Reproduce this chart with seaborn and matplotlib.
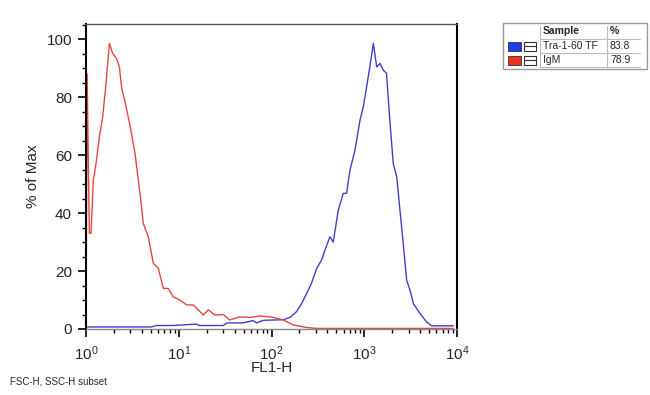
import matplotlib
matplotlib.use("Agg")
import matplotlib.pyplot as plt
import matplotlib.ticker as mticker
from matplotlib.patches import Rectangle
import numpy as np
import pandas as pd
import seaborn as sns

# log10(FL1-H) positions and % of Max
igm_log = [0.0, 0.012, 0.036, 0.054, 0.079, 0.108, 0.144, 0.18, 0.216, 0.252, 0.288,
           0.33, 0.36, 0.385, 0.42, 0.474, 0.528, 0.582, 0.618, 0.672, 0.726, 0.78,
           0.834, 0.887, 0.94, 1.013, 1.085, 1.157, 1.265, 1.319, 1.39, 1.48, 1.55,
           1.66, 1.77, 1.876, 2.02, 2.127, 2.235, 2.38, 2.487, 3.0, 3.96]
igm_pct = [0.0, 88, 33, 33, 51.4, 57, 66.3, 73.2, 84.7, 98.5, 95,
           93.3, 90.4, 83, 78.4, 70.3, 60.6, 46.8, 36.4, 31.8, 22.6, 20.9,
           14, 14, 11.1, 10, 8.3, 8.3, 4.8, 6.6, 4.8, 5, 3.1,
           4.2, 4, 4.5, 4, 3.1, 1.4, 0.5, 0.2, 0.2, 0.2]

tra_log = [0.0, 0.7, 0.76, 0.94, 1.19, 1.22, 1.48, 1.52, 1.69, 1.8, 1.84, 1.91,
           2.127, 2.2, 2.27, 2.325, 2.38, 2.43, 2.487, 2.54, 2.576, 2.63, 2.666,
           2.72, 2.774, 2.81, 2.846, 2.9, 2.954, 2.99, 3.026, 3.06, 3.098, 3.134,
           3.17, 3.205, 3.24, 3.278, 3.313, 3.35, 3.385, 3.42, 3.457, 3.493, 3.53,
           3.6, 3.67, 3.727, 3.96]
tra_pct = [0.7, 0.7, 1.2, 1.2, 1.7, 1.2, 1.2, 2.1, 2.1, 2.9, 2.1, 3.0,
           3.2, 4.0, 6, 8.8, 12.3, 15.7, 20.9, 23.8, 27.2, 31.8, 30,
           41, 46.8, 46.8, 54.8, 61.7, 72, 76.7, 83.6, 90.4, 98.5, 90.4,
           91.6, 89.3, 88.2, 71, 57, 52.5, 41, 29.5, 16.9, 13.4, 8.8,
           5.4, 2.5, 1.1, 1.1]

samples = ["Tra-1-60 TF", "IgM"]
sample_pct = ["83.8", "78.9"]
line_colors = ["#3c3fd2", "#e2483c"]
swatch_colors = ["#1e3cf0", "#ee3318"]

df = pd.concat([
    pd.DataFrame({"FL1-H": np.power(10.0, tra_log), "pct": tra_pct, "Sample": samples[0]}),
    pd.DataFrame({"FL1-H": np.power(10.0, igm_log), "pct": igm_pct, "Sample": samples[1]}),
], ignore_index=True)

sns.set_style("white")
plt.rcParams["font.family"] = ["Liberation Sans", "DejaVu Sans"]

fig = plt.figure(figsize=(6.5, 3.95), dpi=100)
ax = fig.add_axes([86 / 650, 1 - 329 / 395, (457 - 86) / 650, (329 - 24) / 395])

sns.lineplot(data=df, x="FL1-H", y="pct", hue="Sample", palette=dict(zip(samples, line_colors)),
             sort=False, estimator=None, linewidth=1.0, legend=False, ax=ax)

ax.set_xscale("log")
ax.set_xlim(1, 1e4)
ax.set_ylim(0, 105.2)
ax.set_xticks([1, 10, 100, 1000, 10000])
ax.xaxis.set_major_formatter(mticker.LogFormatterMathtext())
ax.xaxis.set_minor_locator(mticker.LogLocator(base=10, subs=np.arange(2, 10)))
ax.xaxis.set_minor_formatter(mticker.NullFormatter())
ax.set_yticks([0, 20, 40, 60, 80, 100])
ax.yaxis.set_minor_locator(mticker.MultipleLocator(5))
ax.tick_params(which="major", direction="out", length=6, width=1.2, color="black",
               labelsize=11, bottom=True, left=True, pad=4)
ax.tick_params(axis="x", which="major", pad=5)
ax.tick_params(which="minor", direction="out", length=3, width=1.0, color="black",
               bottom=True, left=True)
ax.set_xlabel("FL1-H", fontsize=11, labelpad=-1)
ax.set_ylabel("% of Max", fontsize=11, labelpad=5)
for side in ["left", "right"]:
    ax.spines[side].set_color("black")
    ax.spines[side].set_linewidth(1.5)
ax.spines["top"].set_color("#555555")
ax.spines["top"].set_linewidth(1.0)
ax.spines["bottom"].set_color("#888888")
ax.spines["bottom"].set_linewidth(1.0)

fig.text(10 / 650, 1 - 382 / 395, "FSC-H, SSC-H subset", fontsize=7, va="center", ha="left")


# legend table, in figure pixels
def fx(px):
    return px / 650


def fy(py):
    return 1 - py / 395


fig.add_artist(Rectangle((fx(503), fy(69)), fx(647) - fx(503), fy(23) - fy(69),
                         transform=fig.transFigure, fill=False, edgecolor="#999999", linewidth=1))
for y_line in [39, 53, 67]:
    fig.add_artist(plt.Line2D([fx(540), fx(640)], [fy(y_line), fy(y_line)],
                              transform=fig.transFigure, color="#bbbbbb", linewidth=0.8))
for x_line in [540, 607]:
    fig.add_artist(plt.Line2D([fx(x_line), fx(x_line)], [fy(26), fy(67)],
                              transform=fig.transFigure, color="#bbbbbb", linewidth=0.8))
fig.text(fx(543), fy(31.5), "Sample", fontsize=7.5, fontweight="bold", va="center", ha="left")
fig.text(fx(610), fy(31.5), "%", fontsize=7.5, fontweight="bold", va="center", ha="left")
for i, (name, pct) in enumerate(zip(samples, sample_pct)):
    yc = 46 + 14 * i
    fig.add_artist(Rectangle((fx(508), fy(yc + 4.5)), fx(521) - fx(508), fy(yc - 4.5) - fy(yc + 4.5),
                             transform=fig.transFigure, facecolor=swatch_colors[i], edgecolor="#333333",
                             linewidth=0.6))
    fig.add_artist(Rectangle((fx(524), fy(yc + 4.5)), fx(536) - fx(524), fy(yc - 4.5) - fy(yc + 4.5),
                             transform=fig.transFigure, facecolor="white", edgecolor="#333333",
                             linewidth=0.8))
    fig.add_artist(plt.Line2D([fx(524), fx(536)], [fy(yc), fy(yc)],
                              transform=fig.transFigure, color="#333333", linewidth=0.8))
    fig.text(fx(543), fy(yc), name, fontsize=7.5, va="center", ha="left")
    fig.text(fx(610), fy(yc), pct, fontsize=7.5, va="center", ha="left")

fig.savefig("out.png", dpi=100)
